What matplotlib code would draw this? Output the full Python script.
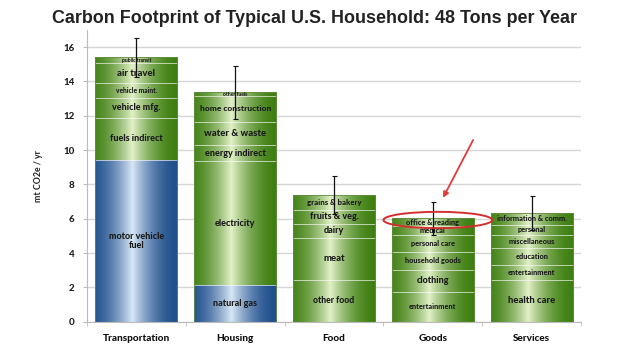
import numpy as np
import matplotlib
matplotlib.use("Agg")
import matplotlib.pyplot as plt
from matplotlib.patches import Ellipse
from matplotlib.colors import to_rgb

# Household carbon footprint, mt CO2e / yr, stacked bottom -> top
categories = ["Transportation", "Housing", "Food", "Goods", "Services"]

seg_labels = [
    ["motor vehicle\nfuel", "fuels indirect", "vehicle mfg.", "vehicle maint.", "air travel", "public transit"],
    ["natural gas", "electricity", "energy indirect", "water & waste", "home construction", "other fuels"],
    ["other food", "meat", "dairy", "fruits & veg.", "grains & bakery"],
    ["entertainment", "clothing", "household goods", "personal care", "medical", "office & reading"],
    ["health care", "entertainment", "education", "miscellaneous", "personal", "information & comm."],
]
seg_values = [
    [9.43, 2.44, 1.17, 0.87, 1.14, 0.35],
    [2.15, 7.20, 0.95, 1.36, 1.50, 0.20],
    [2.44, 2.46, 0.80, 0.82, 0.87],
    [1.76, 1.27, 1.06, 0.97, 0.53, 0.44],
    [2.44, 0.86, 1.00, 0.76, 0.59, 0.69],
]
# which segments are direct fuel (blue) vs indirect (green)
seg_blue = [
    [True, False, False, False, False, False],
    [True, False, False, False, False, False],
    [False] * 5,
    [False] * 6,
    [False] * 6,
]
seg_fontsize = [
    [6.5, 6.5, 6.5, 4.8, 6.8, 3.6],
    [6.5, 6.5, 6.5, 6.8, 6.0, 3.6],
    [6.2, 6.8, 6.5, 6.5, 5.6],
    [5.3, 6.5, 5.3, 5.3, 5.3, 5.3],
    [6.8, 5.3, 5.3, 5.3, 5.3, 5.3],
]
errors = [1.15, 1.55, 1.1, 0.95, 0.97]

GREEN_EDGE, GREEN_LIGHT = "#3f7f12", "#e2f1c8"
BLUE_EDGE, BLUE_LIGHT = "#1f4f8c", "#d8e7f5"


def cylinder(edge, light, n=200):
    t = np.linspace(0, 1, n)
    # highlight a little left of centre, like a shaded cylinder
    prof = np.clip(1 - np.abs(t - 0.45) / 0.55, 0, 1) ** 1.8
    e, l = np.array(to_rgb(edge)), np.array(to_rgb(light))
    return (e[None, :] * (1 - prof[:, None]) + l[None, :] * prof[:, None])[None, :, :]


green_img = cylinder(GREEN_EDGE, GREEN_LIGHT)
blue_img = cylinder(BLUE_EDGE, BLUE_LIGHT)

fig = plt.figure(figsize=(6.4, 3.6), dpi=100)
ax = fig.add_axes([0.136, 0.106, 0.772, 0.811])

x = np.arange(len(categories))
width = 0.83
totals = []
for i, (vals, labs) in enumerate(zip(seg_values, seg_labels)):
    bottom = 0.0
    for j, (v, lab) in enumerate(zip(vals, labs)):
        bar = ax.bar(x[i], v, width, bottom=bottom, facecolor="none",
                     edgecolor=(1, 1, 1, 0.45), linewidth=0.6, zorder=3)[0]
        img = blue_img if seg_blue[i][j] else green_img
        x0, y0 = bar.get_x(), bar.get_y()
        im = ax.imshow(img, extent=(x0, x0 + bar.get_width(), y0, y0 + bar.get_height()),
                       aspect="auto", interpolation="bilinear", zorder=2)
        im.set_clip_path(bar)
        ax.text(x[i], bottom + v / 2, lab, ha="center", va="center",
                fontsize=seg_fontsize[i][j], fontweight=900, color="#1a1a1a",
                family="Lato", linespacing=1.0, zorder=5)
        bottom += v
    totals.append(bottom)
    ax.bar(x[i], bottom, width, facecolor="none", edgecolor="#4a7a22",
           linewidth=0.5, zorder=3)

ax.errorbar(x, totals, yerr=errors, fmt="none", ecolor="#111111",
            elinewidth=0.9, capsize=1.8, capthick=0.8, zorder=6)

# red highlight on the Goods bar
gi = categories.index("Goods")
ax.add_patch(Ellipse((gi + 0.05, totals[gi] - 0.1), 1.1, 0.95, fill=False,
                     edgecolor="#d32f2f", linewidth=1.4, zorder=7, clip_on=False))
ax.annotate("", xy=(gi + 0.09, totals[gi] + 1.05), xytext=(gi + 0.42, totals[gi] + 4.7),
            arrowprops=dict(arrowstyle="-|>", color="#e03a3a", lw=1.3,
                            mutation_scale=8), zorder=7)

ax.set_xlim(-0.5, len(categories) - 0.5)
ax.set_ylim(0, 17)
ax.set_yticks(np.arange(0, 17, 2))
ax.set_yticklabels([str(v) for v in range(0, 17, 2)], fontsize=7,
                   fontweight=900, family="Lato", color="#222222")
ax.set_xticks(x)
ax.set_xticklabels(categories, fontsize=7.2, fontweight=900, family="Lato",
                   color="#111111")
ax.set_xticks(np.arange(-0.5, len(categories), 1), minor=True)
ax.tick_params(axis="x", which="major", length=0, pad=9)
ax.tick_params(axis="x", which="minor", length=3, color="#bbbbbb")
ax.tick_params(axis="y", length=3, color="#bbbbbb", pad=6)
ax.grid(axis="y", color="#d6d6d6", linewidth=1.0, zorder=0)
ax.set_axisbelow(True)
for s in ["top", "right"]:
    ax.spines[s].set_visible(False)
for s in ["left", "bottom"]:
    ax.spines[s].set_color("#bbbbbb")
    ax.spines[s].set_linewidth(0.8)

ax.set_ylabel("mt CO2e / yr", fontsize=6.3, fontweight="bold", family="Lato",
              color="#222222")
ax.yaxis.set_label_coords(-0.09, 0.5)

fig.text(0.081, 0.935, "Carbon Footprint of Typical U.S. Household: 48 Tons per Year",
         fontsize=12.9, fontweight="bold", family="Liberation Sans", color="#222222",
         ha="left", va="baseline")

fig.savefig("out.png", dpi=100)
